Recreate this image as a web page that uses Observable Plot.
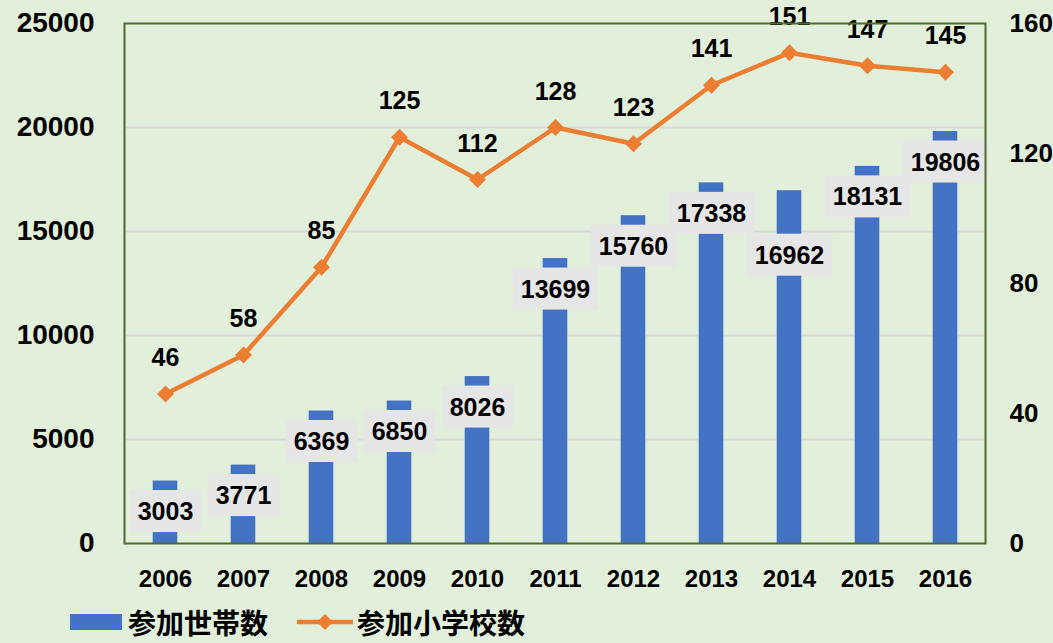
<!DOCTYPE html>
<html>
<head>
<meta charset="utf-8">
<script src="https://cdn.jsdelivr.net/npm/d3@7"></script>
<script src="https://cdn.jsdelivr.net/npm/@observablehq/plot@0.6"></script>
<style>
  html, body { margin: 0; padding: 0; background: #e2efda; }
  #chart { width: 1053px; height: 600px; }
  #legend { position: relative; height: 43px; width: 1053px; font-family: "Noto Sans CJK JP", sans-serif; font-weight: bold; font-size: 28px; color: #000; }
  .lg { position: absolute; top: 0; height: 43px; display: flex; align-items: center; }
</style>
</head>
<body>
<div id="chart"></div>
<div id="legend">
  <div class="lg" style="left:70px;"><span style="display:inline-block;width:52px;height:16px;background:#4472c4;margin-right:6px;"></span><span>参加世帯数</span></div>
  <div class="lg" style="left:297px;"><svg width="56" height="20" style="margin-right:4px;"><line x1="0" y1="10" x2="56" y2="10" stroke="#ed7d31" stroke-width="4.5" stroke-linecap="round"/><path d="M28,2 L36,10 L28,18 L20,10 Z" fill="#ed7d31"/></svg><span>参加小学校数</span></div>
</div>
<script>
const years = ["2006","2007","2008","2009","2010","2011","2012","2013","2014","2015","2016"];
const households = [3003, 3771, 6369, 6850, 8026, 13699, 15760, 17338, 16962, 18131, 19806];
const schools = [46, 58, 85, 125, 112, 128, 123, 141, 151, 147, 145];
const leftTicks = [0, 5000, 10000, 15000, 20000, 25000];
const gridTicks = [5000, 10000, 15000, 20000];
const rightTicks = [0, 40, 80, 120, 160];
const leftMax = 25000, rightMax = 160;
const k = leftMax / rightMax;

const data = years.map((year, i) => ({year, households: households[i], schools: schools[i], schoolsScaled: schools[i] * k}));
const lowered = ["2014"];

const font = '"Liberation Sans", Arial, sans-serif';

const plot = Plot.plot({
  width: 1053,
  height: 600,
  marginTop: 23,
  marginBottom: 57,
  marginLeft: 124,
  marginRight: 68,
  style: {background: "transparent", fontFamily: font, fontWeight: "bold", color: "#000"},
  x: {domain: years, padding: 0, label: null},
  y: {domain: [0, leftMax], label: null},
  marks: [
    Plot.gridY(gridTicks, {stroke: "#d9d9d9", strokeOpacity: 1, strokeWidth: 2}),
    Plot.barY(data, {x: "year", y: "households", fill: "#4472c4", insetLeft: 26.7, insetRight: 26.7}),
    Plot.text(data.filter(d => !lowered.includes(d.year)), {x: "year", y: "households", text: d => String(d.households), dy: 31, fontSize: 25, fontWeight: "bold", fill: "#000", lineAnchor: "middle"}),
    Plot.text(data.filter(d => lowered.includes(d.year)), {x: "year", y: "households", text: d => String(d.households), dy: 65, fontSize: 25, fontWeight: "bold", fill: "#000", lineAnchor: "middle"}),
    Plot.line(data, {x: "year", y: "schoolsScaled", stroke: "#ed7d31", strokeWidth: 4.5}),
    Plot.dot(data, {x: "year", y: "schoolsScaled", symbol: "diamond2", r: 7.6, fill: "#ed7d31", stroke: "none"}),
    Plot.text(data, {x: "year", y: "schoolsScaled", text: d => String(d.schools), dy: -36, fontSize: 25, fontWeight: "bold", fill: "#000", lineAnchor: "middle"}),
    Plot.axisY(leftTicks, {anchor: "left", tickSize: 0, tickPadding: 30, fontSize: 28, fontWeight: "bold", tickFormat: d => String(d), label: null}),
    Plot.axisY(rightTicks.map(v => v * k), {anchor: "right", tickSize: 0, tickPadding: 24, fontSize: 26, fontWeight: "bold", tickFormat: d => String(Math.round(d / k)), label: null}),
    Plot.axisX({anchor: "bottom", tickSize: 0, tickPadding: 26, fontSize: 24, fontWeight: "bold", label: null}),
    Plot.frame({stroke: "#4f6b2f", strokeWidth: 2})
  ]
});
document.getElementById("chart").appendChild(plot);

// grey label boxes behind the bar value labels
const textGroups = plot.querySelectorAll('g[aria-label="text"]');
[textGroups[0], textGroups[1]].forEach(g => {
  if (!g) return;
  g.querySelectorAll("text").forEach(t => {
    const b = t.getBBox();
    const r = document.createElementNS("http://www.w3.org/2000/svg", "rect");
    r.setAttribute("x", b.x - 8);
    r.setAttribute("y", b.y - 7);
    r.setAttribute("width", b.width + 16);
    r.setAttribute("height", b.height + 14);
    r.setAttribute("fill", "#e7e6e6");
    r.setAttribute("stroke", "none");
    const tr = t.getAttribute("transform");
    if (tr) r.setAttribute("transform", tr);
    t.parentNode.insertBefore(r, t);
  });
});
</script>
</body>
</html>
